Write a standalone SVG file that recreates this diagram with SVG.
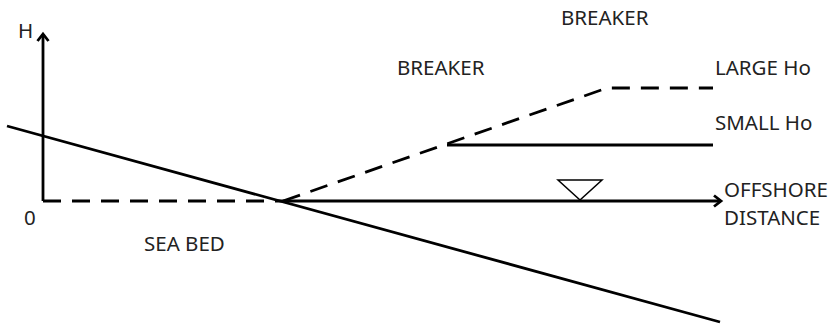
<svg xmlns="http://www.w3.org/2000/svg" width="835" height="328" viewBox="0 0 835 328">
<style>
.t{font-family:"Noto Sans","Open Sans",sans-serif;font-size:20.5px;fill:#222}
.s{stroke:#000;stroke-width:2.8;fill:none}
.d{stroke:#000;stroke-width:2.8;fill:none;stroke-dasharray:18 11}
</style>
<defs>
<marker id="ah" markerWidth="14" markerHeight="14" refX="10" refY="7" orient="auto" markerUnits="userSpaceOnUse">
<path d="M3,1.5 L10,7 L3,12.5" fill="none" stroke="#000" stroke-width="2.8"/>
</marker>
</defs>
<rect width="835" height="328" fill="#fff"/>
<g id="connectors">
<line class="s" x1="43" y1="201" x2="43" y2="34" marker-end="url(#ah)"/>
<line class="d" x1="43" y1="201" x2="283" y2="201"/>
<line class="s" x1="283" y1="201" x2="721" y2="201" marker-end="url(#ah)"/>
<line class="s" x1="7" y1="126" x2="720" y2="322"/>
<polyline class="d" points="283,201 607,88 713,88"/>
<line class="s" x1="447" y1="145" x2="713" y2="145"/>
</g>
<g id="water-level"><polygon points="558,180 602,180 580,200" fill="#fff" stroke="#000" stroke-width="1.5"/></g>
<g id="labels">
<text class="t" x="18" y="38">H</text>
<text class="t" x="24" y="225">0</text>
<text class="t" x="397" y="75">BREAKER</text>
<text class="t" x="561" y="25">BREAKER</text>
<text class="t" x="715" y="75">LARGE Ho</text>
<text class="t" x="715" y="130">SMALL Ho</text>
<text class="t" x="724" y="197">OFFSHORE</text>
<text class="t" x="724" y="225">DISTANCE</text>
<text class="t" x="144" y="251">SEA BED</text>
</g>
</svg>
